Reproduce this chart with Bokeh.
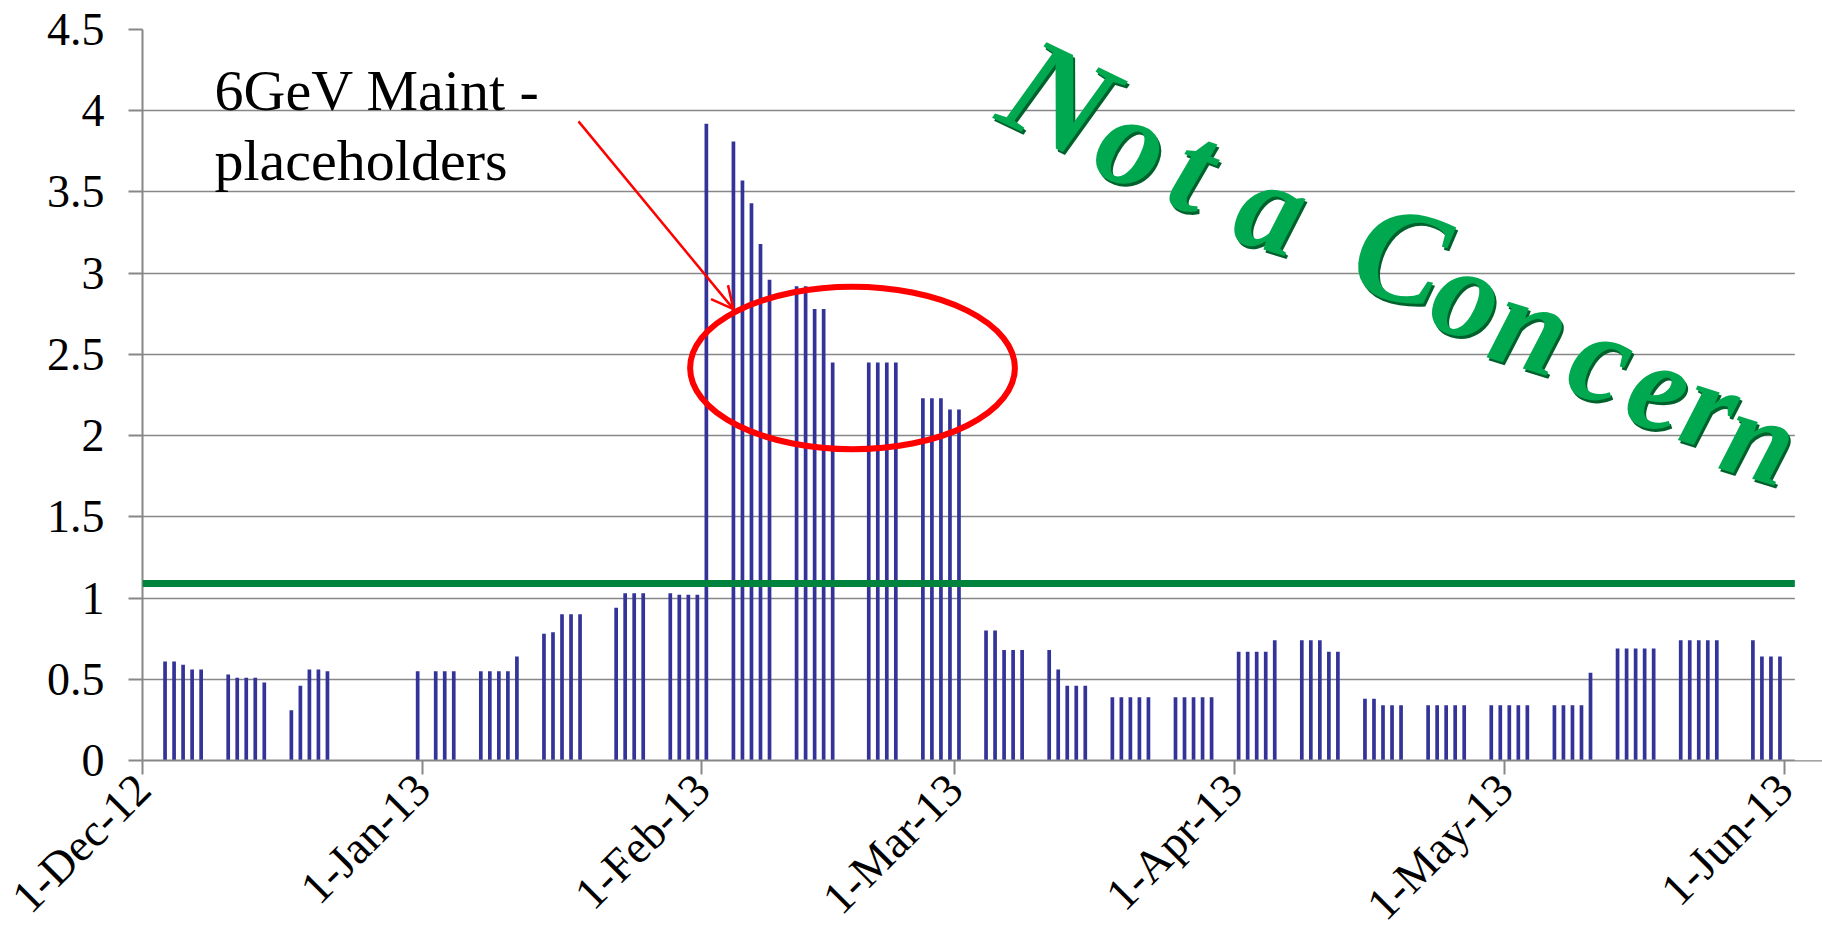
import math
import pandas as pd
from bokeh.plotting import figure
from bokeh.models import (FixedTicker, DatetimeTickFormatter, NumeralTickFormatter,
                          Span, Label, Arrow, OpenHead, Range1d, ColumnDataSource,
                          BoxAnnotation)
from bokeh.embed import file_html
from bokeh.resources import INLINE

# ---------------- data (weekday values) ----------------
dec12_days = [3, 4, 5, 6, 7, 10, 11, 12, 13, 14, 17, 18, 19, 20, 21, 31]
dec12_vals = [0.61, 0.61, 0.59, 0.56, 0.56, 0.53, 0.51, 0.51, 0.51, 0.48,
              0.31, 0.46, 0.56, 0.56, 0.55, 0.55]
jan13_days = [2, 3, 4, 7, 8, 9, 10, 11, 14, 15, 16, 17, 18, 22, 23, 24, 25, 28, 29, 30, 31]
jan13_vals = [0.55, 0.55, 0.55, 0.55, 0.55, 0.55, 0.55, 0.64, 0.78, 0.79, 0.90, 0.90, 0.90,
              0.94, 1.03, 1.03, 1.03, 1.03, 1.02, 1.02, 1.02]
feb13_days = [1, 4, 5, 6, 7, 8, 11, 12, 13, 14, 15, 19, 20, 21, 22, 25, 26, 27, 28]
feb13_vals = [3.92, 3.81, 3.57, 3.43, 3.18, 2.96, 2.92, 2.92, 2.78, 2.78, 2.45,
              2.45, 2.45, 2.45, 2.45, 2.23, 2.23, 2.23, 2.16]
mar13_days = [1, 4, 5, 6, 7, 8, 11, 12, 13, 14, 15, 18, 19, 20, 21, 22, 25, 26, 27, 28, 29]
mar13_vals = [2.16, 0.80, 0.80, 0.68, 0.68, 0.68, 0.68, 0.56, 0.46, 0.46, 0.46,
              0.39, 0.39, 0.39, 0.39, 0.39, 0.39, 0.39, 0.39, 0.39, 0.39]
apr13_days = [1, 2, 3, 4, 5, 8, 9, 10, 11, 12, 15, 16, 17, 18, 19, 22, 23, 24, 25, 26, 29, 30]
apr13_vals = [0.67, 0.67, 0.67, 0.67, 0.74, 0.74, 0.74, 0.74, 0.67, 0.67, 0.38,
              0.38, 0.34, 0.34, 0.34, 0.34, 0.34, 0.34, 0.34, 0.34, 0.34, 0.34]
may13_days = [1, 2, 3, 6, 7, 8, 9, 10, 13, 14, 15, 16, 17, 20, 21, 22, 23, 24, 28, 29, 30, 31]
may13_vals = [0.34, 0.34, 0.34, 0.34, 0.34, 0.34, 0.34, 0.54, 0.69, 0.69, 0.69,
              0.69, 0.69, 0.74, 0.74, 0.74, 0.74, 0.74, 0.74, 0.64, 0.64, 0.64]

months = [("2012-12", dec12_days, dec12_vals), ("2013-01", jan13_days, jan13_vals),
          ("2013-02", feb13_days, feb13_vals), ("2013-03", mar13_days, mar13_vals),
          ("2013-04", apr13_days, apr13_vals), ("2013-05", may13_days, may13_vals)]

tick_dates = ["2012-12-01", "2013-01-01", "2013-02-01", "2013-03-01",
              "2013-04-01", "2013-05-01", "2013-06-01"]
y_ticks = [0, 0.5, 1, 1.5, 2, 2.5, 3, 3.5, 4, 4.5]
threshold = 1.09

annot_line1 = "6GeV Maint -"
annot_line2 = "placeholders"
stamp_text = "Not a Concern"

# ---------------- helpers ----------------
DAY = 86400000
def ms(s):
    return pd.Timestamp(s).value // 10**6

xs, tops = [], []
for ym, days, vals in months:
    for d, v in zip(days, vals):
        xs.append(ms(f"{ym}-{d:02d}") + DAY // 2)
        tops.append(v)

W, H = 1822, 950
BL, BT, BB = 142, 29, 189
PLOT_RIGHT = 1793                      # where the chart area visibly ends
x_start, x_axis_end = ms("2012-12-01"), ms("2013-06-02")
px_per_ms = (PLOT_RIGHT - BL) / (x_axis_end - x_start)
x_end = x_start + (W - BL) / px_per_ms  # frame runs to the canvas edge (room for the stamp)
FT, FB = BT, H - BB

def px(page_x, page_y):
    x = x_start + (page_x - BL) / px_per_ms
    y = (FB - page_y) / (FB - FT) * 4.5
    return x, y

GRAY = "#878787"
FONT = "Liberation Serif"

p = figure(width=W, height=H, output_backend="svg", toolbar_location=None,
           x_range=Range1d(x_start, x_end), y_range=Range1d(0, 4.5),
           min_border_left=BL, min_border_right=0, min_border_top=BT, min_border_bottom=BB)
p.outline_line_color = None
p.background_fill_color = "white"
p.border_fill_color = "white"

p.xgrid.visible = False
p.ygrid.grid_line_color = GRAY
p.ygrid.grid_line_width = 1.6
p.ygrid.ticker = FixedTicker(ticks=y_ticks)

# y axis
p.yaxis.ticker = FixedTicker(ticks=y_ticks)
p.yaxis.formatter = NumeralTickFormatter(format="0.[0]")
# x axis
p.xaxis.ticker = FixedTicker(ticks=[ms(t) for t in tick_dates])
fmt = "%-d-%b-%y"
p.xaxis.formatter = DatetimeTickFormatter(milliseconds=fmt, seconds=fmt, minsec=fmt, minutes=fmt,
                                          hourmin=fmt, hours=fmt, days=fmt, months=fmt, years=fmt)
p.xaxis.major_label_orientation = math.pi / 4

for ax in (p.xaxis[0], p.yaxis[0]):
    ax.axis_line_color = GRAY
    ax.axis_line_width = 2
    ax.major_tick_line_color = GRAY
    ax.major_tick_line_width = 2
    ax.major_tick_out = 14
    ax.major_tick_in = 0
    ax.minor_tick_out = 0
    ax.minor_tick_in = 0
    ax.major_label_text_font = FONT
    ax.major_label_text_color = "black"
p.yaxis.major_label_text_font_size = "46px"
p.xaxis.major_label_text_font_size = "46px"
p.yaxis.major_label_standoff = 24
p.xaxis.major_label_standoff = 7

# bars
src = ColumnDataSource(dict(x=xs, top=tops))
p.vbar(x="x", top="top", bottom=0, width=0.41 * DAY, source=src,
       fill_color="#333399", line_color=None)

# threshold line
p.add_layout(Span(location=threshold, dimension="width", line_color="#00843D", line_width=7))

# blank strip right of the chart area (frame extends only to give the stamp room)
p.add_layout(BoxAnnotation(left=x_axis_end + 0.15 * DAY, fill_color="white", fill_alpha=1.0,
                           line_color=None))

# red ellipse
ex, ey = px(852, 368)
p.ellipse(x=[ex], y=[ey], width=36.0 * DAY, height=1.0, fill_color=None,
          line_color="#FF0000", line_width=6)

# arrow
ax0, ay0 = px(578, 121)
ax1, ay1 = px(733, 309)
p.add_layout(Arrow(end=OpenHead(size=22, line_color="#FF0000", line_width=2.5),
                   x_start=ax0, y_start=ay0, x_end=ax1, y_end=ay1,
                   line_color="#FF0000", line_width=2.5))

# annotation text
for txt, by in ((annot_line1, 90), (annot_line2, 160)):
    lx, ly = px(214, by)
    p.add_layout(Label(x=lx, y=ly, text=txt, text_font=FONT, text_font_size="58px",
                       text_color="black", text_align="left", text_baseline="alphabetic"))

# "Not a Concern" stamp, letters laid along a descending line
letter_pos = [(1059, 97, 140, -0.45), (1133, 141, 130, -0.35), (1194, 167, 130, -0.35),
              (1272, 206, 130, -0.3), (1401, 255, 135, -0.25), (1468, 293, 130, -0.3),
              (1531, 325, 130, -0.3), (1602, 357, 130, -0.3), (1659, 387, 128, -0.3),
              (1711, 406, 126, -0.3), (1760, 438, 122, -0.3)]
chars = [c for c in stamp_text if c != " "]
for ch, (lxp, lyp, fs, ang) in zip(chars, letter_pos):
    lx, ly = px(lxp, lyp)
    for col, dx, dy in (("#00612C", 2, -3), ("#00A94F", 0, 0)):
        p.add_layout(Label(x=lx, y=ly, x_offset=dx, y_offset=dy, text=ch, text_font=FONT,
                           text_font_style="bold italic", text_font_size=f"{fs}px",
                           text_color=col, text_align="center", text_baseline="middle",
                           angle=ang))

open("out.html", "w").write(file_html(p, INLINE))
